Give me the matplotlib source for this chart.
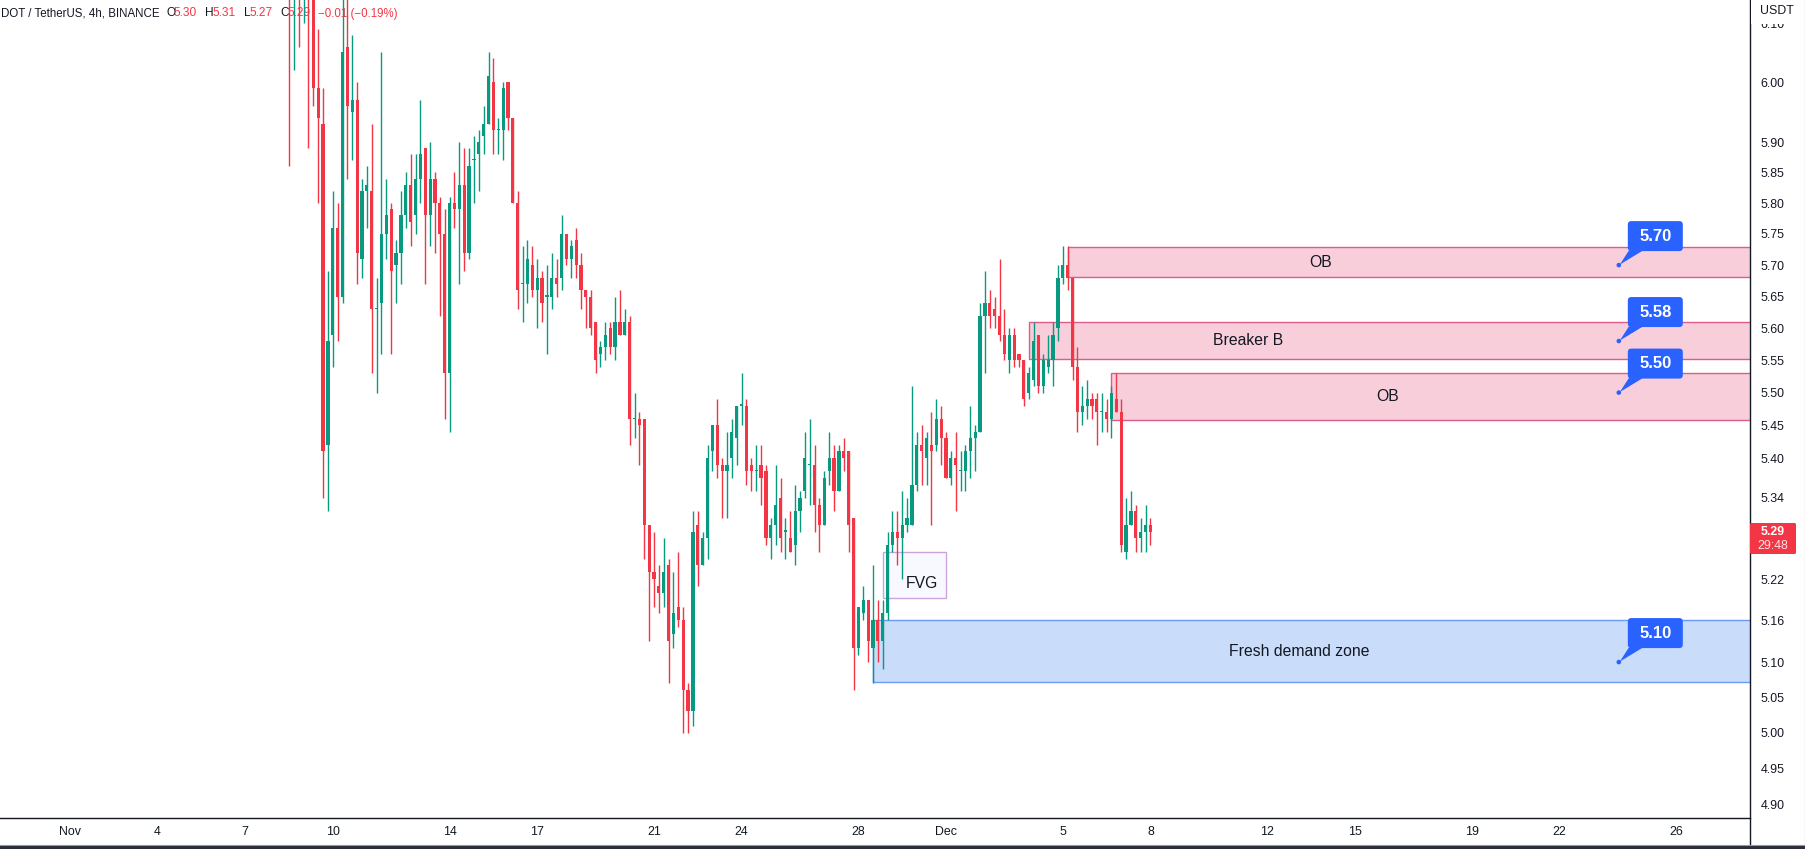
import matplotlib
matplotlib.use("Agg")
import matplotlib.pyplot as plt
import matplotlib.dates as mdates
from matplotlib.patches import Rectangle, FancyBboxPatch, Polygon, Circle
from matplotlib.lines import Line2D
from matplotlib.ticker import NullLocator
from matplotlib.transforms import IdentityTransform
from datetime import datetime, timedelta

# ---------------- data (DOT / TetherUS, 4h) ----------------
opens = [6.30, 6.18, 6.26, 6.18, 6.24, 6.20, 5.99, 5.93, 5.42, 5.59,
         5.76, 5.65, 6.06, 5.95, 5.97, 5.71, 5.82, 5.82, 5.63, 5.64,
         5.75, 5.79, 5.70, 5.72, 5.78, 5.83, 5.78, 5.84, 5.89, 5.78,
         5.84, 5.80, 5.75, 5.53, 5.80, 5.79, 5.83, 5.72, 5.87, 5.88,
         5.91, 5.93, 6.00, 5.92, 5.92, 6.00, 5.94, 5.80, 5.67, 5.67,
         5.70, 5.66, 5.68, 5.65, 5.65, 5.68, 5.68, 5.75, 5.71, 5.74,
         5.70, 5.66, 5.65, 5.61, 5.56, 5.57, 5.60, 5.57, 5.61, 5.59,
         5.61, 5.46, 5.46, 5.46, 5.30, 5.23, 5.21, 5.20, 5.24, 5.14,
         5.18, 5.16, 5.06, 5.03, 5.30, 5.24, 5.28, 5.41, 5.45, 5.39,
         5.38, 5.40, 5.43, 5.48, 5.48, 5.39, 5.38, 5.39, 5.38, 5.28,
         5.30, 5.34, 5.29, 5.28, 5.27, 5.32, 5.35, 5.39, 5.39, 5.33,
         5.30, 5.38, 5.40, 5.35, 5.41, 5.41, 5.31, 5.12, 5.17, 5.19,
         5.12, 5.16, 5.13, 5.17, 5.27, 5.29, 5.28, 5.30, 5.30, 5.36,
         5.42, 5.40, 5.42, 5.42, 5.46, 5.43, 5.37, 5.40, 5.38, 5.38,
         5.41, 5.43, 5.44, 5.62, 5.64, 5.63, 5.62, 5.59, 5.55, 5.59,
         5.56, 5.55, 5.50, 5.52, 5.59, 5.51, 5.54, 5.55, 5.60, 5.68,
         5.70, 5.68, 5.54, 5.47, 5.48, 5.49, 5.49, 5.47, 5.47, 5.46,
         5.49, 5.47, 5.26, 5.30, 5.32, 5.28, 5.29, 5.30]
highs = [6.34, 6.30, 6.30, 6.28, 6.27, 6.24, 6.09, 5.99, 5.69, 5.82,
         5.80, 6.18, 6.16, 6.08, 6.00, 5.84, 5.86, 5.93, 5.68, 6.05,
         5.84, 5.80, 5.74, 5.82, 5.85, 5.88, 5.88, 5.97, 5.89, 5.90,
         5.85, 5.81, 5.79, 5.81, 5.85, 5.90, 5.89, 5.89, 5.91, 5.92,
         5.96, 6.05, 6.04, 5.94, 6.00, 6.00, 5.94, 5.82, 5.73, 5.74,
         5.73, 5.71, 5.69, 5.70, 5.72, 5.71, 5.78, 5.75, 5.74, 5.76,
         5.72, 5.66, 5.66, 5.61, 5.58, 5.61, 5.61, 5.65, 5.66, 5.63,
         5.62, 5.50, 5.47, 5.46, 5.30, 5.29, 5.24, 5.28, 5.25, 5.23,
         5.26, 5.18, 5.07, 5.32, 5.32, 5.29, 5.42, 5.45, 5.49, 5.40,
         5.44, 5.46, 5.48, 5.53, 5.49, 5.40, 5.42, 5.42, 5.39, 5.31,
         5.39, 5.37, 5.31, 5.32, 5.36, 5.35, 5.44, 5.46, 5.42, 5.34,
         5.38, 5.44, 5.42, 5.42, 5.43, 5.41, 5.31, 5.18, 5.21, 5.19,
         5.24, 5.19, 5.19, 5.29, 5.32, 5.32, 5.35, 5.34, 5.51, 5.44,
         5.45, 5.44, 5.47, 5.49, 5.48, 5.44, 5.41, 5.44, 5.41, 5.42,
         5.48, 5.45, 5.64, 5.69, 5.66, 5.65, 5.71, 5.63, 5.60, 5.60,
         5.56, 5.55, 5.54, 5.61, 5.59, 5.56, 5.59, 5.61, 5.70, 5.73,
         5.73, 5.68, 5.57, 5.51, 5.52, 5.50, 5.50, 5.50, 5.49, 5.51,
         5.53, 5.49, 5.34, 5.35, 5.33, 5.31, 5.33, 5.31]
lows = [5.86, 6.02, 6.06, 6.10, 5.89, 5.96, 5.80, 5.34, 5.32, 5.54,
        5.58, 5.64, 5.84, 5.87, 5.67, 5.68, 5.76, 5.53, 5.50, 5.56,
        5.71, 5.56, 5.64, 5.67, 5.76, 5.73, 5.75, 5.80, 5.67, 5.73,
        5.72, 5.62, 5.46, 5.44, 5.76, 5.67, 5.69, 5.71, 5.80, 5.82,
        5.88, 5.93, 5.88, 5.88, 5.87, 5.92, 5.80, 5.63, 5.61, 5.64,
        5.65, 5.60, 5.61, 5.56, 5.63, 5.65, 5.66, 5.70, 5.68, 5.68,
        5.63, 5.60, 5.59, 5.53, 5.54, 5.55, 5.56, 5.55, 5.59, 5.59,
        5.42, 5.43, 5.39, 5.25, 5.13, 5.18, 5.17, 5.18, 5.07, 5.12,
        5.15, 5.00, 5.00, 5.01, 5.21, 5.24, 5.25, 5.38, 5.37, 5.31,
        5.31, 5.37, 5.39, 5.45, 5.36, 5.35, 5.35, 5.33, 5.27, 5.25,
        5.27, 5.26, 5.25, 5.26, 5.24, 5.29, 5.34, 5.33, 5.29, 5.26,
        5.30, 5.36, 5.32, 5.35, 5.38, 5.26, 5.06, 5.11, 5.16, 5.10,
        5.07, 5.10, 5.09, 5.16, 5.26, 5.24, 5.22, 5.29, 5.30, 5.35,
        5.36, 5.36, 5.30, 5.41, 5.39, 5.37, 5.36, 5.32, 5.35, 5.35,
        5.37, 5.38, 5.44, 5.53, 5.60, 5.60, 5.58, 5.55, 5.53, 5.54,
        5.54, 5.48, 5.49, 5.51, 5.50, 5.50, 5.53, 5.51, 5.58, 5.67,
        5.66, 5.52, 5.44, 5.45, 5.46, 5.46, 5.42, 5.44, 5.44, 5.43,
        5.47, 5.26, 5.25, 5.30, 5.26, 5.26, 5.26, 5.27]
closes = [6.18, 6.26, 6.18, 6.24, 6.20, 5.99, 5.94, 5.41, 5.58, 5.76,
          5.65, 6.05, 5.96, 5.97, 5.72, 5.82, 5.83, 5.63, 5.63, 5.75,
          5.78, 5.69, 5.72, 5.78, 5.83, 5.77, 5.84, 5.88, 5.78, 5.84,
          5.80, 5.75, 5.53, 5.80, 5.79, 5.83, 5.72, 5.86, 5.87, 5.90,
          5.93, 6.01, 5.92, 5.92, 5.99, 5.94, 5.80, 5.66, 5.67, 5.71,
          5.66, 5.68, 5.64, 5.65, 5.68, 5.67, 5.75, 5.71, 5.73, 5.70,
          5.66, 5.65, 5.60, 5.55, 5.57, 5.59, 5.57, 5.61, 5.59, 5.61,
          5.46, 5.46, 5.45, 5.30, 5.23, 5.22, 5.20, 5.23, 5.13, 5.17,
          5.16, 5.06, 5.03, 5.29, 5.24, 5.28, 5.40, 5.45, 5.39, 5.38,
          5.39, 5.44, 5.48, 5.48, 5.38, 5.38, 5.38, 5.37, 5.28, 5.30,
          5.33, 5.28, 5.29, 5.26, 5.32, 5.34, 5.40, 5.39, 5.33, 5.30,
          5.37, 5.40, 5.35, 5.41, 5.40, 5.30, 5.12, 5.18, 5.19, 5.13,
          5.16, 5.13, 5.17, 5.27, 5.29, 5.28, 5.30, 5.31, 5.36, 5.42,
          5.41, 5.43, 5.41, 5.46, 5.43, 5.37, 5.40, 5.39, 5.38, 5.41,
          5.43, 5.44, 5.62, 5.64, 5.62, 5.62, 5.59, 5.56, 5.59, 5.55,
          5.55, 5.49, 5.53, 5.58, 5.51, 5.55, 5.55, 5.59, 5.68, 5.70,
          5.68, 5.54, 5.47, 5.48, 5.49, 5.48, 5.47, 5.47, 5.46, 5.50,
          5.47, 5.27, 5.30, 5.32, 5.28, 5.29, 5.30, 5.29]
first_candle = datetime(2022, 11, 8, 12)
candle_hours = 4

# zones drawn on chart
zone_labels = ["OB", "Breaker B", "OB", "Fresh demand zone"]
zone_start = [datetime(2022, 12, 5, 4), datetime(2022, 12, 3, 20),
              datetime(2022, 12, 6, 16), datetime(2022, 11, 28, 12)]
zone_top = [5.729, 5.610, 5.530, 5.160]
zone_bottom = [5.681, 5.552, 5.458, 5.071]
zone_label_x = [datetime(2022, 12, 13, 20), datetime(2022, 12, 11, 8),
                datetime(2022, 12, 16, 3), datetime(2022, 12, 13, 2)]
zone_kind = ["supply", "supply", "supply", "demand"]

fvg_label = "FVG"
fvg_start = datetime(2022, 11, 28, 20)
fvg_end = datetime(2022, 12, 1, 0)
fvg_top = 5.260
fvg_bottom = 5.192
fvg_label_pos = (datetime(2022, 11, 30, 4), 5.213)

callout_values = [5.70, 5.58, 5.50, 5.10]
callout_time = datetime(2022, 12, 24, 1)

price_ticks = [6.10, 6.00, 5.90, 5.85, 5.80, 5.75, 5.70, 5.65, 5.60, 5.55,
               5.50, 5.45, 5.40, 5.34, 5.22, 5.16, 5.10, 5.05, 5.00, 4.95, 4.90]
date_ticks = [datetime(2022, 11, d) for d in (1, 4, 7, 10, 14, 17, 21, 24, 28)] + \
             [datetime(2022, 12, d) for d in (1, 5, 8, 12, 15, 19, 22, 26)]
date_tick_labels = ["Nov", "4", "7", "10", "14", "17", "21", "24", "28",
                    "Dec", "5", "8", "12", "15", "19", "22", "26"]

last_price = 5.29
countdown = "29:48"
header_parts = [("DOT / TetherUS, 4h, BINANCE", 1, "dark"),
                ("O", 167, "dark"), ("5.30", 174, "red"),
                ("H", 205, "dark"), ("5.31", 213, "red"),
                ("L", 244, "dark"), ("5.27", 250, "red"),
                ("C", 280, "dark"), ("5.29", 287, "red"),
                ("\u22120.01 (\u22120.19%)", 318, "red")]

# ---------------- style ----------------
W, H = 1806, 849
GREEN = "#089981"
RED = "#F23645"
TXT = "#131722"
BLUE = "#2962FF"
plt.rcParams["font.family"] = ["Liberation Sans", "DejaVu Sans"]

fig = plt.figure(figsize=(W / 100, H / 100), dpi=100)
fig.patch.set_facecolor("white")
AX_R, AX_B = 1750, 818
ax = fig.add_axes([0, (H - AX_B) / H, AX_R / W, AX_B / H])
ax.set_facecolor("white")
ax.set_yscale("log")

d0 = mdates.date2num(datetime(2022, 11, 1))
PX_DAY = 29.2
ax.set_xlim(d0 - 70 / PX_DAY, d0 + (AX_R - 70) / PX_DAY)
ax.set_ylim(4.882, 6.1395)

# candles
xs = [mdates.date2num(first_candle + timedelta(hours=candle_hours * i)) for i in range(len(opens))]
cols = [GREEN if c >= o else RED for o, c in zip(opens, closes)]
ax.vlines(xs, lows, highs, colors=cols, linewidth=1.0, zorder=3)
bottoms = [min(o, c) for o, c in zip(opens, closes)]
heights = [max(abs(c - o), 0.0017) for o, c in zip(opens, closes)]
ax.bar(xs, heights, width=3.2 / PX_DAY, bottom=bottoms, color=cols, linewidth=0, zorder=4)

# zones
xr = ax.get_xlim()[1]
for lab, st, top, bot, lx, kind in zip(zone_labels, zone_start, zone_top, zone_bottom,
                                        zone_label_x, zone_kind):
    x0 = mdates.date2num(st)
    if kind == "supply":
        fc, ec = "#F8CEDB", "#DD5C8C"
    else:
        fc, ec = "#C9DCFA", "#6A9AF4"
    ax.add_patch(Rectangle((x0, bot), xr - x0 + 1, top - bot, facecolor=fc,
                           edgecolor=ec, linewidth=1.0, zorder=1))
    ax.text(mdates.date2num(lx), (top * bot) ** 0.5, lab, ha="center", va="center",
            fontsize=11.3, color=TXT, zorder=5)

fx0, fx1 = mdates.date2num(fvg_start), mdates.date2num(fvg_end)
ax.add_patch(Rectangle((fx0, fvg_bottom), fx1 - fx0, fvg_top - fvg_bottom,
                       facecolor="#F7F9FF", edgecolor="#CDA3DC", linewidth=1.0, zorder=1))
ax.text(mdates.date2num(fvg_label_pos[0]), fvg_label_pos[1], fvg_label, ha="center",
        va="center", fontsize=11.3, color=TXT, zorder=5)

# axes styling
for s in ("top", "left", "right"):
    ax.spines[s].set_visible(False)
ax.spines["bottom"].set_color(TXT)
ax.spines["bottom"].set_linewidth(1.0)
ax.yaxis.tick_right()
ax.set_yticks(price_ticks)
ax.set_yticklabels([f"{v:.2f}" for v in price_ticks])
ax.yaxis.set_minor_locator(NullLocator())
ax.set_xticks([mdates.date2num(d) for d in date_ticks])
ax.set_xticklabels(date_tick_labels)
ax.xaxis.set_minor_locator(NullLocator())
ax.tick_params(axis="y", length=0, pad=7.5, labelsize=8.9, labelcolor=TXT)
ax.tick_params(axis="x", length=0, pad=6, labelsize=8.9, labelcolor=TXT)

fig.canvas.draw()
IDT = IdentityTransform()


def to_px(xd, yd):
    """data -> display pixels, y measured from the top"""
    dx, dy = ax.transData.transform((xd, yd))
    return dx, H - dy


def dp(xp, yp):
    """top-based pixel -> display coords (bottom-based)"""
    return (xp, H - yp)


# header
for txt, xp, kind in header_parts:
    fs = 8.3 if txt.startswith("DOT") or txt.startswith("\u2212") else 8.6
    ax.text(xp / W, 1 - 13.5 / H, txt, transform=fig.transFigure, ha="left", va="center",
            fontsize=fs, color=TXT if kind == "dark" else RED, zorder=2, clip_on=False)

# callouts
cx = mdates.date2num(callout_time)
for v in callout_values:
    px, py = to_px(cx, v)
    bx0, bx1 = px + 9, px + 64
    by0, by1 = py - 44, py - 14
    box = FancyBboxPatch(dp(bx0, by1), bx1 - bx0, by1 - by0,
                         boxstyle="round,pad=0,rounding_size=3.5",
                         transform=IDT, facecolor=BLUE, edgecolor="none", zorder=10)
    fig.add_artist(box)
    tail = Polygon([dp(px + 10, py - 14.5), dp(px + 24, py - 14.5), dp(px + 1, py - 0.5)],
                   closed=True, transform=IDT, facecolor=BLUE, edgecolor="none", zorder=10)
    fig.add_artist(tail)
    dot = Circle(dp(px, py), 2.3, transform=IDT, facecolor=BLUE, edgecolor="none", zorder=11)
    fig.add_artist(dot)
    fig.text((bx0 + bx1) / 2 / W, 1 - (by0 + by1) / 2 / H, f"{v:.2f}", ha="center",
             va="center", fontsize=12, fontweight="bold", color="white", zorder=12)

# right scale decorations
fig.add_artist(Line2D([AX_R / W, AX_R / W], [1 - 845 / H, 1], color=TXT, linewidth=1.0))
fig.add_artist(Rectangle(dp(AX_R + 1, 24), W - AX_R - 3, 24, transform=IDT,
                         facecolor="white", edgecolor="none", zorder=20))
fig.text(1760 / W, 1 - 11 / H, "USDT", ha="left", va="center", fontsize=8.9, color=TXT,
         zorder=21)

# last price label
lp_x, lp_y = to_px(ax.get_xlim()[1], last_price)
fig.add_artist(FancyBboxPatch(dp(AX_R, 554), 46, 31, boxstyle="round,pad=0,rounding_size=1.5",
                              transform=IDT, facecolor=RED, edgecolor="none", zorder=20))
fig.text(1773 / W, 1 - lp_y / H, f"{last_price:.2f}", ha="center", va="center",
         fontsize=8.9, fontweight="bold", color="white", zorder=21)
fig.text(1773 / W, 1 - 546 / H, countdown, ha="center", va="center", fontsize=8.9,
         color="#FFE3E6", zorder=21)

# bottom strip and right edge
fig.add_artist(Rectangle((0, 0), W, 4, transform=IDT, facecolor="#2A2E39",
                         edgecolor="none", zorder=20))
fig.add_artist(Line2D([0, W], [4.5, 4.5], transform=IDT, color="#9598A1", linewidth=0.8,
                      zorder=20))
fig.add_artist(Line2D([W - 1, W - 1], [0, H], transform=IDT, color="#9598A1", linewidth=0.8,
                      zorder=20))

fig.savefig("out.png", dpi=100, facecolor="white")
